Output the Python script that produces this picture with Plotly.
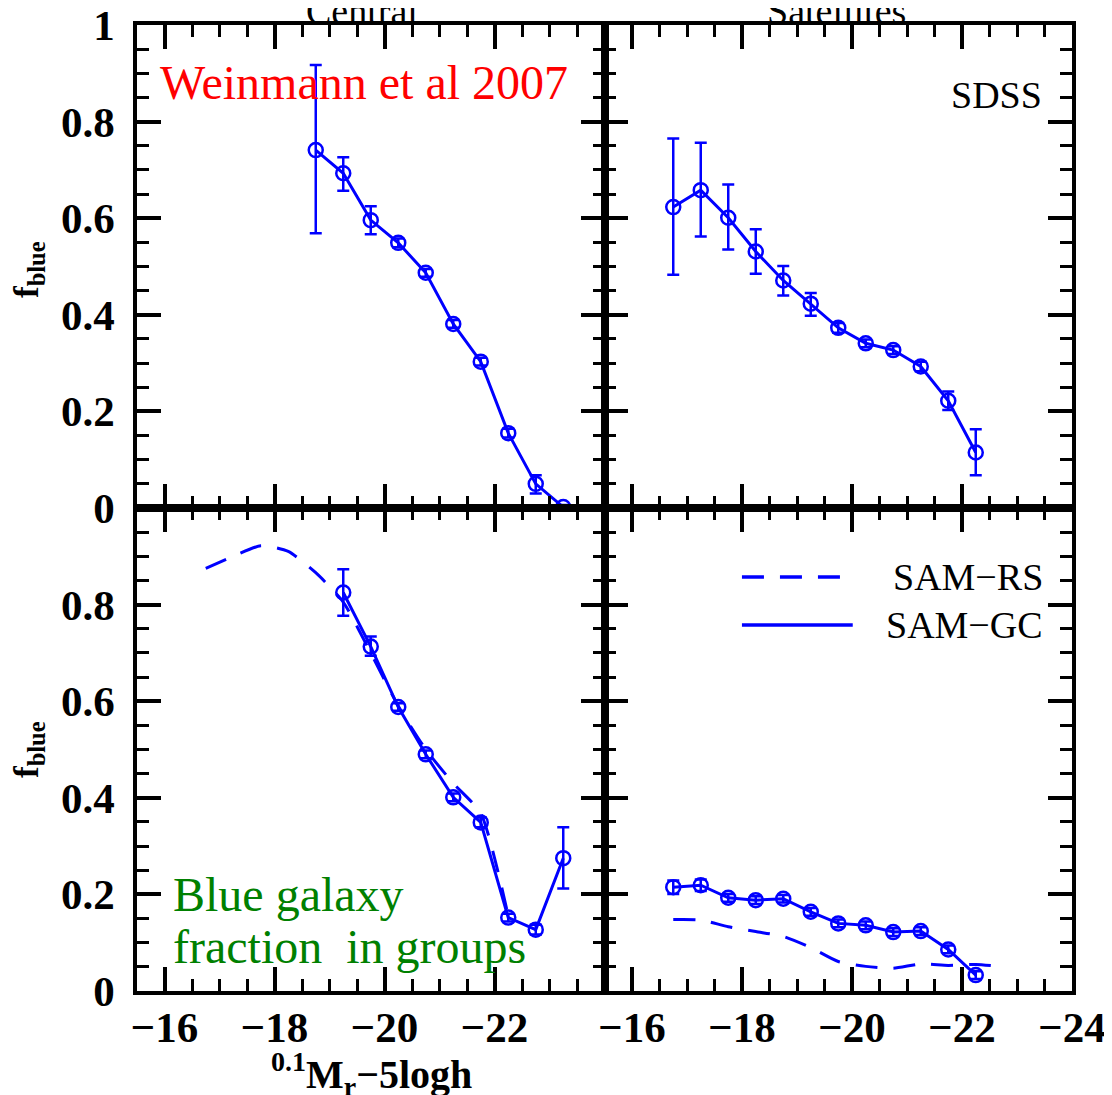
import plotly.graph_objects as go

# ---------------- data ----------------
# Top-left: Central, SDSS (Weinmann et al 2007)
cen_x = [-18.75, -19.25, -19.75, -20.25, -20.75, -21.25, -21.75, -22.25, -22.75, -23.25]
cen_f = [0.741, 0.693, 0.596, 0.549, 0.487, 0.381, 0.303, 0.155, 0.050, 0.002]
cen_up = [0.176, 0.033, 0.029, 0.009, 0.008, 0.008, 0.008, 0.009, 0.018, 0.004]
cen_dn = [0.172, 0.036, 0.029, 0.009, 0.008, 0.008, 0.008, 0.009, 0.020, 0.002]

# Top-right: Satellites, SDSS
sat_x = [-16.75, -17.25, -17.75, -18.25, -18.75, -19.25, -19.75, -20.25, -20.75, -21.25, -21.75, -22.25]
sat_f = [0.623, 0.658, 0.601, 0.531, 0.471, 0.423, 0.373, 0.341, 0.327, 0.293, 0.222, 0.115]
sat_up = [0.142, 0.098, 0.069, 0.046, 0.030, 0.022, 0.010, 0.008, 0.008, 0.010, 0.019, 0.048]
sat_dn = [0.140, 0.096, 0.066, 0.046, 0.031, 0.025, 0.010, 0.008, 0.008, 0.010, 0.019, 0.047]

# Bottom-left: Central, SAM-GC (points) and SAM-RS (dashed)
gc_cen_x = [-19.25, -19.75, -20.25, -20.75, -21.25, -21.75, -22.25, -22.75, -23.25]
gc_cen_f = [0.825, 0.713, 0.588, 0.490, 0.401, 0.349, 0.152, 0.127, 0.275]
gc_cen_up = [0.048, 0.021, 0.008, 0.008, 0.008, 0.010, 0.008, 0.010, 0.064]
gc_cen_dn = [0.048, 0.019, 0.008, 0.008, 0.008, 0.010, 0.008, 0.010, 0.063]
rs_cen_x = [-16.75, -17.25, -17.75, -18.25, -18.75, -19.25, -19.75, -20.25, -20.75, -21.25, -21.75, -22.25]
rs_cen_f = [0.875, 0.900, 0.922, 0.910, 0.866, 0.805, 0.700, 0.590, 0.500, 0.430, 0.368, 0.155]

# Bottom-right: Satellites, SAM-GC and SAM-RS
gc_sat_x = [-16.75, -17.25, -17.75, -18.25, -18.75, -19.25, -19.75, -20.25, -20.75, -21.25, -21.75, -22.25]
gc_sat_f = [0.215, 0.219, 0.193, 0.188, 0.191, 0.164, 0.140, 0.136, 0.122, 0.124, 0.086, 0.033]
gc_sat_err = [0.014, 0.012, 0.008, 0.008, 0.008, 0.008, 0.008, 0.008, 0.008, 0.008, 0.008, 0.008]
rs_sat_x = [-16.75, -17.25, -17.75, -18.25, -18.75, -19.25, -19.75, -20.25, -20.75, -21.25, -21.75, -22.25, -22.75]
rs_sat_f = [0.148, 0.147, 0.133, 0.123, 0.113, 0.090, 0.061, 0.051, 0.047, 0.056, 0.053, 0.055, 0.050]

x_tickvals = [-16, -18, -20, -22, -24]
x_ticktext_left = ["\u221216", "\u221218", "\u221220", "\u221222", ""]
x_ticktext_right = ["\u221216", "\u221218", "\u221220", "\u221222", "\u221224"]
y_tickvals = [0, 0.2, 0.4, 0.6, 0.8, 1.0]
y_ticktext_top = ["0", "0.2", "0.4", "0.6", "0.8", "1"]
y_ticktext_bot = ["0", "0.2", "0.4", "0.6", "0.8", ""]

BLUE = "#0000ff"
SERIF = "Liberation Serif"

fig = go.Figure()


def pts(x, f, up, dn, xa, ya):
    fig.add_trace(go.Scatter(
        x=x, y=f, xaxis=xa, yaxis=ya, mode="lines+markers", showlegend=False,
        line=dict(color=BLUE, width=3),
        marker=dict(symbol="circle-open", size=14, color=BLUE, line=dict(width=2.5, color=BLUE)),
        error_y=dict(type="data", array=up, arrayminus=dn, color=BLUE, thickness=2.5, width=6),
    ))


def dashed(x, f, xa, ya):
    fig.add_trace(go.Scatter(
        x=x, y=f, xaxis=xa, yaxis=ya, mode="lines", showlegend=False,
        line=dict(color=BLUE, width=3, dash="22px,16px", shape="spline", smoothing=0.6),
    ))


pts(cen_x, cen_f, cen_up, cen_dn, "x", "y")
pts(sat_x, sat_f, sat_up, sat_dn, "x2", "y2")
dashed(rs_cen_x, rs_cen_f, "x3", "y3")
pts(gc_cen_x, gc_cen_f, gc_cen_up, gc_cen_dn, "x3", "y3")
dashed(rs_sat_x, rs_sat_f, "x4", "y4")
pts(gc_sat_x, gc_sat_f, gc_sat_err, gc_sat_err, "x4", "y4")

tickfont = dict(family=SERIF, size=43, color="black", weight="bold")
common = dict(showline=True, linecolor="black", linewidth=3.5, mirror="allticks",
              ticks="inside", ticklen=24, tickwidth=3.5, tickcolor="black", automargin=False,
              ticklabeloverflow="allow",
              showgrid=False, zeroline=False, tickfont=tickfont)


def xax(domain, anchor, text, show):
    d = dict(common)
    d.update(domain=domain, anchor=anchor, range=[-15.5, -24], tickmode="array",
             tickvals=x_tickvals, ticktext=text, showticklabels=show, ticklabelstandoff=-4,
             minor=dict(ticks="inside", ticklen=12, tickwidth=3, tickcolor="black",
                        tickmode="linear", tick0=-16, dtick=0.5, showgrid=False))
    return d


def yax(domain, anchor, text, show):
    d = dict(common)
    d.update(domain=domain, anchor=anchor, range=[0, 1], tickmode="array",
             tickvals=y_tickvals, ticktext=text, showticklabels=show, ticklabelstandoff=10,
             minor=dict(ticks="inside", ticklen=12, tickwidth=3, tickcolor="black",
                        tickmode="linear", tick0=0, dtick=0.05, showgrid=False))
    return d


fig.update_layout(
    width=1112, height=1095,
    margin=dict(l=129, r=48, t=17, b=112),
    paper_bgcolor="white", plot_bgcolor="white",
    xaxis=xax([0, 0.5], "y", x_ticktext_left, False),
    yaxis=yax([0.5, 1], "x", y_ticktext_top, True),
    xaxis2=xax([0.5, 1], "y2", x_ticktext_right, False),
    yaxis2=yax([0.5, 1], "x2", y_ticktext_top, False),
    xaxis3=xax([0, 0.5], "y3", x_ticktext_left, True),
    yaxis3=yax([0, 0.5], "x3", y_ticktext_bot, True),
    xaxis4=xax([0.5, 1], "y4", x_ticktext_right, True),
    yaxis4=yax([0, 0.5], "x4", y_ticktext_bot, False),
)

# legend (drawn manually in bottom-right panel)
fig.add_shape(type="line", xref="x4 domain", yref="y4 domain", x0=0.294, x1=0.514, y0=0.857, y1=0.857,
              line=dict(color=BLUE, width=3.5, dash="22px,16px"))
fig.add_shape(type="line", xref="x4 domain", yref="y4 domain", x0=0.294, x1=0.531, y0=0.758, y1=0.758,
              line=dict(color=BLUE, width=3.5))

ann_font = dict(family=SERIF, size=38, color="black")


def py(pix):
    return (991 - pix) / 966


def px(pix):
    return (pix - 137) / 935


anns = [
    dict(text="SAM\u2212RS", xref="x4 domain", yref="y4 domain", x=0.942, y=0.857, xanchor="right", yanchor="middle", font=ann_font),
    dict(text="SAM\u2212GC", xref="x4 domain", yref="y4 domain", x=0.942, y=0.758, xanchor="right", yanchor="middle", font=ann_font),
    dict(text="SDSS", xref="x2 domain", yref="y2 domain", x=0.940, y=0.855, xanchor="right", yanchor="middle", font=ann_font),
    dict(text="Central", xref="x domain", yref="paper", x=0.482, y=py(34), xanchor="center", yanchor="bottom", font=ann_font),
    dict(text="Satellites", xref="x2 domain", yref="paper", x=0.497, y=py(34), xanchor="center", yanchor="bottom", font=ann_font),
    dict(text="Weinmann et al 2007", xref="paper", yref="paper", x=px(158), y=py(83),
         xanchor="left", yanchor="middle", font=dict(family=SERIF, size=48, color="red")),
    dict(text="Blue galaxy", xref="paper", yref="paper", x=px(171), y=py(894),
         xanchor="left", yanchor="middle", font=dict(family=SERIF, size=48, color="green")),
    dict(text="fraction\u00a0 in groups", xref="paper", yref="paper", x=px(171), y=py(946),
         xanchor="left", yanchor="middle", font=dict(family=SERIF, size=48, color="green")),
    dict(text="<b>f</b><sub><b>blue</b></sub>", xref="paper", yref="paper", x=px(28),
         y=py(270), xanchor="center", yanchor="middle", textangle=-90,
         font=dict(family=SERIF, size=35, color="black")),
    dict(text="<b>f</b><sub><b>blue</b></sub>", xref="paper", yref="paper", x=px(28),
         y=py(750), xanchor="center", yanchor="middle", textangle=-90,
         font=dict(family=SERIF, size=35, color="black")),
    dict(text="<b><sup>0.1</sup>M<sub>r</sub>\u22125logh</b>", xref="paper", yref="paper", x=px(371),
         y=py(1074), xanchor="center", yanchor="middle",
         font=dict(family=SERIF, size=40, color="black")),
]
for a in anns:
    a["showarrow"] = False
    fig.add_annotation(**a)

fig.write_html("out.html")
